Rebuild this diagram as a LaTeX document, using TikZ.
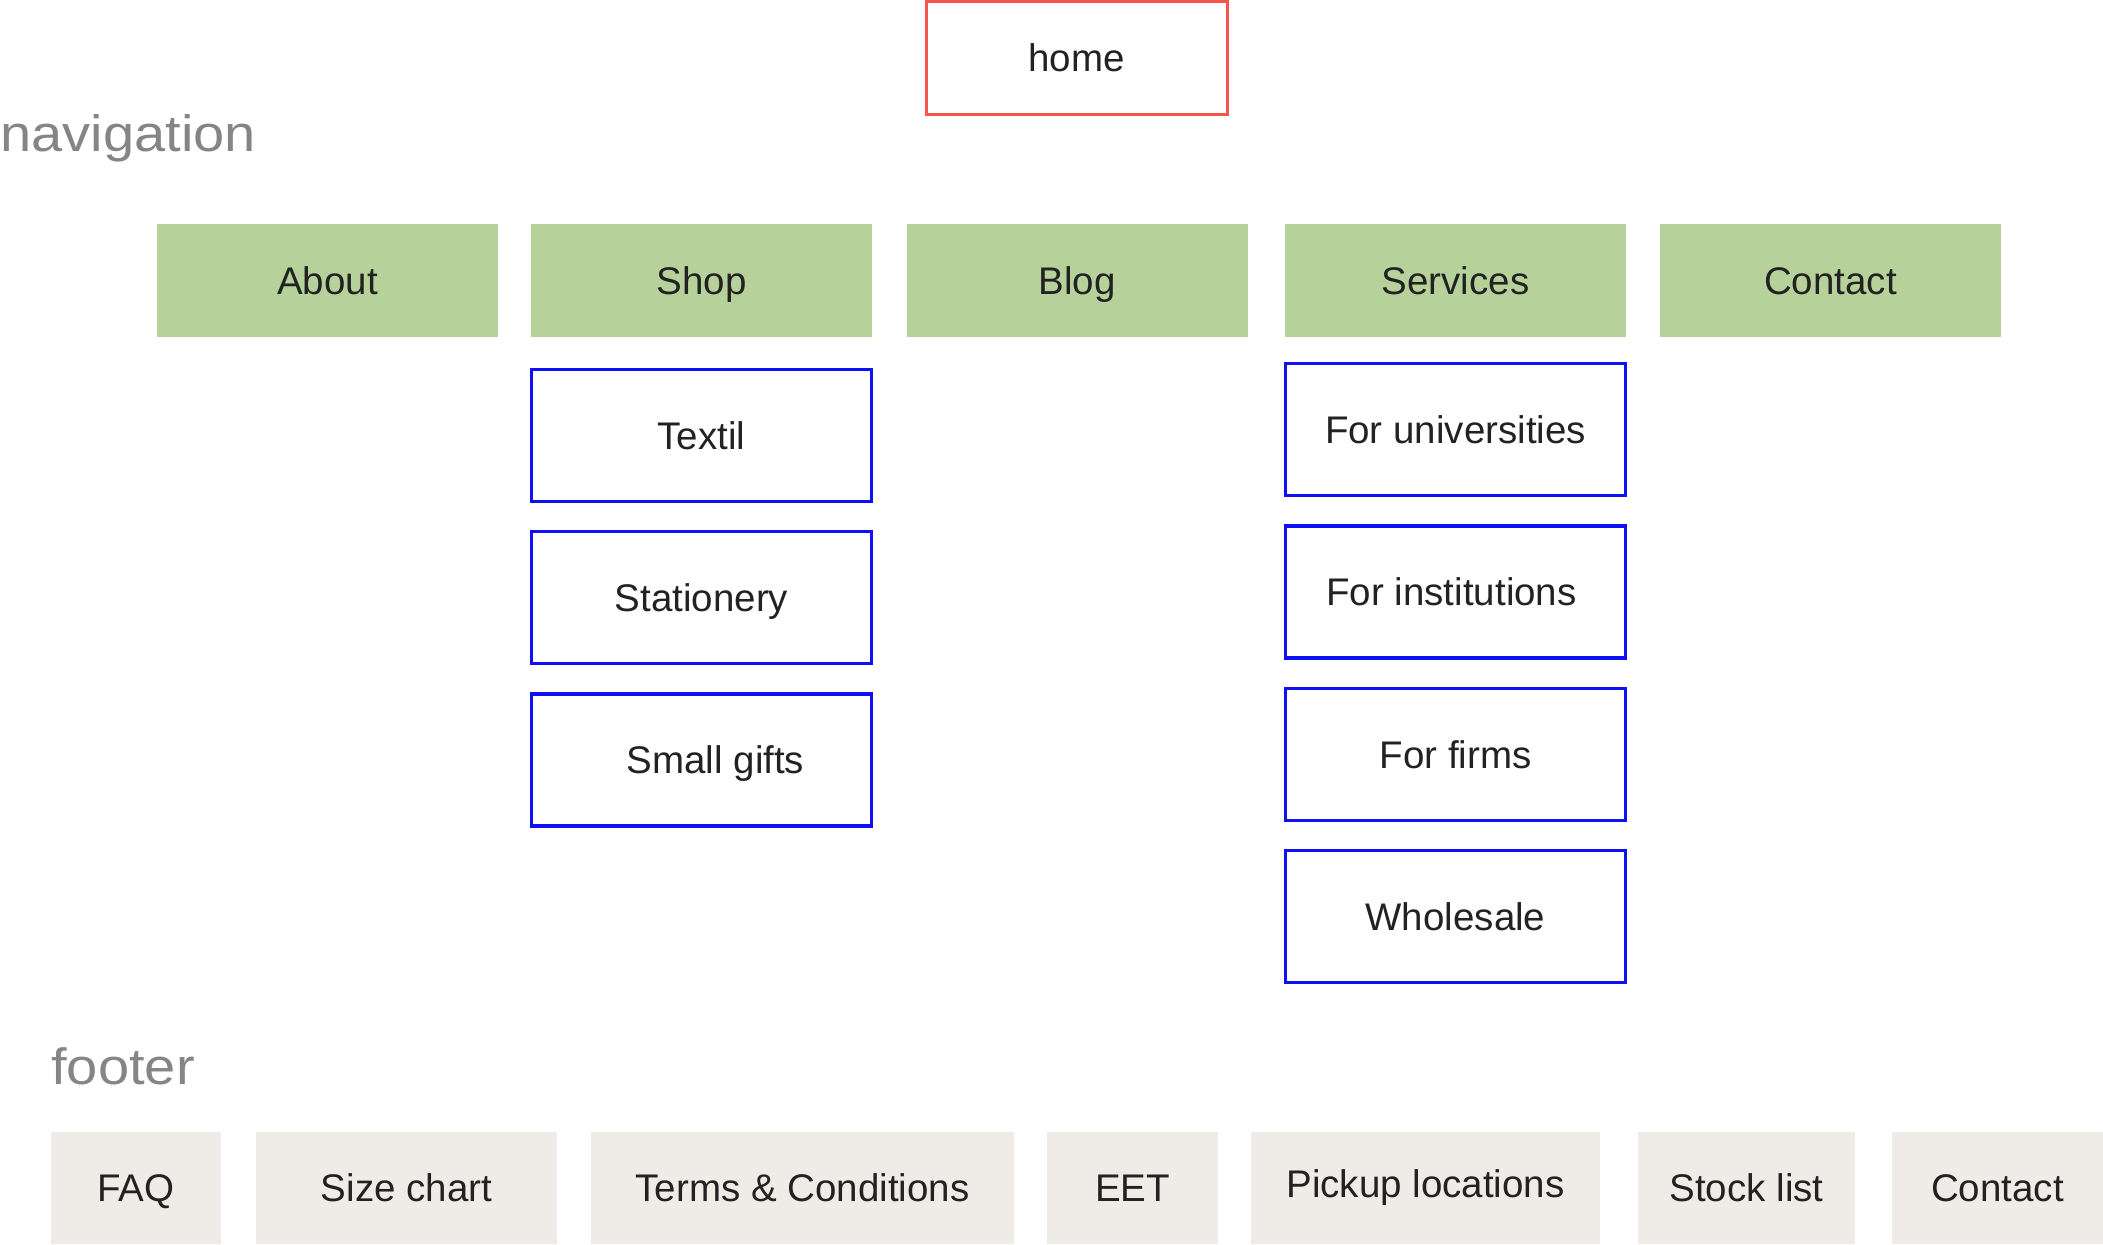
\documentclass[tikz,border=0pt]{standalone}
\usepackage{fontspec}
\setmainfont{Liberation Sans}
\definecolor{homered}{HTML}{F5554F}
\definecolor{subblue}{HTML}{1010F5}
\definecolor{navgreen}{HTML}{B6D29A}
\definecolor{footgray}{HTML}{EFECE8}
\definecolor{ink}{HTML}{222222}
\definecolor{secgray}{HTML}{858585}
\begin{document}
\begin{tikzpicture}[x=0.5pt,y=-0.5pt,
  lbl/.style={font=\fontsize{19.25pt}{23pt}\selectfont, text=ink, text height=13.8pt, text depth=0pt, inner sep=0pt},
  homebox/.style={lbl, draw=homered, line width=1.5pt, minimum width=150.5pt, minimum height=56.5pt},
  navbox/.style={lbl, fill=navgreen, minimum width=170.5pt, minimum height=56.5pt},
  subbox/.style={lbl, draw=subblue, line width=1.6pt, minimum width=170pt, minimum height=66pt},
  footbox/.style={lbl, fill=footgray, minimum height=56pt},
  sect/.style={font=\fontsize{25.5pt}{30pt}\selectfont, text=secgray, inner sep=0pt, anchor=base west}
]
\useasboundingbox (0,0) rectangle (2103,1244);

% home
\node[homebox] (home) at (1076.5,57.5) {home};

% section labels
\node[sect] (navlabel) at (0,151) {\scalebox{1.1}[1]{navigation}};
\node[sect] (footlabel) at (51,1084) {\scalebox{1.1}[1]{footer}};

% navigation
\node[navbox] (about) at (327.5,280.5) {About};
\node[navbox] (shop) at (701.5,280.5) {Shop};
\node[navbox] (blog) at (1077,280.5) {Blog};
\node[navbox] (services) at (1455.5,280.5) {Services};
\node[navbox] (contact) at (1830.5,280.5) {Contact};

% shop children
\node[subbox] (textil) at (701.5,435.5) {Textil};
\node[subbox] (stationery) at (701.5,597.5) {Stationery};
\node[subbox] (gifts) at (701.5,760) {\hspace*{14pt}Small gifts};

% services children
\node[subbox] (univ) at (1455.5,429.5) {For universities};
\node[subbox] (inst) at (1455.5,592) {For institutions\hspace*{4pt}};
\node[subbox] (firms) at (1455.5,754.5) {For firms};
\node[subbox] (whole) at (1455.5,916.5) {Wholesale};

% footer
\node[footbox, minimum width=85pt] (faq) at (136,1188) {FAQ};
\node[footbox, minimum width=150.5pt] (size) at (406.5,1188) {Size chart};
\node[footbox, minimum width=211.5pt] (terms) at (802.5,1188) {Terms \& Conditions};
\node[footbox, minimum width=85.5pt] (eet) at (1132.5,1188) {EET};
\node[footbox, minimum width=174.5pt] (pickup) at (1425.5,1188) {\raisebox{2pt}{Pickup locations}};
\node[footbox, minimum width=108.5pt] (stock) at (1746.5,1188) {Stock list};
\node[footbox, minimum width=105.5pt] (fcontact) at (1997.5,1188) {Contact};
\end{tikzpicture}
\end{document}
